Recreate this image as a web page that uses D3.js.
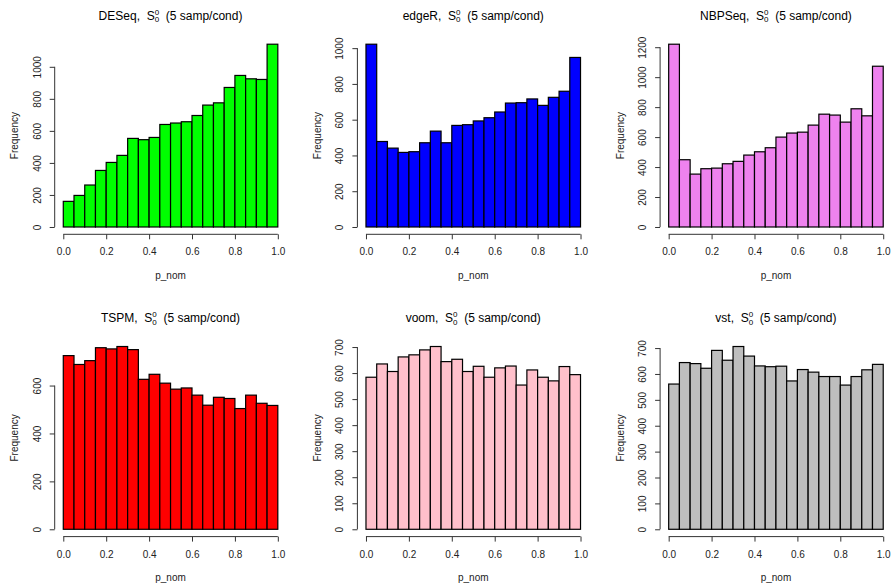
<!DOCTYPE html>
<html>
<head>
<meta charset="utf-8">
<script src="https://cdn.jsdelivr.net/npm/d3@7"></script>
<style>
  html, body { margin: 0; padding: 0; background: #fff; }
  svg { display: block; font-family: "Liberation Sans", Arial, Helvetica, sans-serif; }
  .title { white-space: pre; }
</style>
</head>
<body>
<svg id="chart" width="893" height="588"></svg>
<script>
// ---------- data ----------
const binEdges = [0.00, 0.05, 0.10, 0.15, 0.20, 0.25, 0.30, 0.35, 0.40, 0.45, 0.50,
                  0.55, 0.60, 0.65, 0.70, 0.75, 0.80, 0.85, 0.90, 0.95, 1.00];
const xTicks = [0.0, 0.2, 0.4, 0.6, 0.8, 1.0];

const methods = ["DESeq", "edgeR", "NBPSeq", "TSPM", "voom", "vst"];
const titleSuffix = "(5 samp/cond)";
const xLabel = "p_nom";
const yLabel = "Frequency";

const countsDESeq  = [160, 197, 262, 353, 403, 447, 553, 545, 559, 640,
                      649, 657, 696, 761, 775, 871, 946, 925, 921, 1141];
const countsEdgeR  = [1022, 478, 441, 417, 421, 471, 536, 471, 568, 572,
                      593, 611, 643, 693, 695, 716, 680, 725, 759, 948];
const countsNBPSeq = [1220, 449, 353, 389, 393, 422, 438, 480, 502, 529,
                      600, 627, 633, 680, 753, 747, 700, 789, 742, 1073];
const countsTSPM   = [725, 688, 704, 758, 753, 763, 750, 626, 647, 610,
                      585, 590, 560, 518, 551, 546, 504, 560, 526, 517];
const countsVoom   = [584, 635, 606, 662, 670, 689, 702, 644, 653, 606,
                      626, 584, 620, 627, 554, 612, 584, 570, 625, 594];
const countsVst    = [561, 644, 640, 622, 691, 653, 706, 669, 631, 628,
                      630, 573, 617, 607, 590, 590, 557, 590, 616, 637];

const yTicksDESeq  = [0, 200, 400, 600, 800, 1000];
const yTicksEdgeR  = [0, 200, 400, 600, 800, 1000];
const yTicksNBPSeq = [0, 200, 400, 600, 800, 1000, 1200];
const yTicksTSPM   = [0, 200, 400, 600];
const yTicksVoom   = [0, 100, 200, 300, 400, 500, 600, 700];
const yTicksVst    = [0, 100, 200, 300, 400, 500, 600, 700];

const allCounts = [countsDESeq, countsEdgeR, countsNBPSeq, countsTSPM, countsVoom, countsVst];
const allYTicks = [yTicksDESeq, yTicksEdgeR, yTicksNBPSeq, yTicksTSPM, yTicksVoom, yTicksVst];

// ---------- styles ----------
const fills = ["#00FF00", "#0000FF", "#EE82EE", "#FF0000", "#FFC0CB", "#BEBEBE"];

// ---------- layout ----------
const plotW = 231.7, plotH = 197.4;
const leftOf = col => 54.7 + col * 302.7;
const bottomOf = row => 234.3 + row * 302.3;

const svg = d3.select("#chart");

methods.forEach((name, i) => {
  const col = i % 3, row = Math.floor(i / 3);
  const L = leftOf(col), B = bottomOf(row), T = B - plotH, R = L + plotW;
  const counts = allCounts[i];
  const ymax = d3.max(counts);

  const x = d3.scaleLinear().domain([-0.04, 1.04]).range([L, R]);
  const y = d3.scaleLinear().domain([-0.04 * ymax, 1.04 * ymax]).range([B, T]);

  const g = svg.append("g");

  // bars
  g.selectAll("rect.bar")
    .data(counts)
    .join("rect")
    .attr("class", "bar")
    .attr("x", (d, k) => x(binEdges[k]))
    .attr("width", (d, k) => x(binEdges[k + 1]) - x(binEdges[k]))
    .attr("y", d => y(d))
    .attr("height", d => y(0) - y(d))
    .attr("fill", fills[i])
    .attr("stroke", "#000")
    .attr("stroke-width", 1.2);

  // x axis
  const xAxis = d3.axisBottom(x).tickValues(xTicks).tickSize(5).tickFormat(d3.format(".1f"));
  const gx = g.append("g").attr("transform", `translate(0,${B})`).call(xAxis);
  gx.select(".domain").remove();
  gx.append("line")
    .attr("x1", x(xTicks[0])).attr("x2", x(xTicks[xTicks.length - 1]))
    .attr("y1", 0).attr("y2", 0)
    .attr("stroke", "#333");
  gx.selectAll(".tick line").attr("stroke", "#333");
  gx.selectAll(".tick text")
    .attr("y", 14)
    .attr("fill", "#222")
    .style("font-size", "10px")
    .style("font-family", "'Liberation Sans', Arial, sans-serif");

  // y axis
  const yt = allYTicks[i];
  const yAxis = d3.axisLeft(y).tickValues(yt).tickSize(5).tickFormat(d3.format("d"));
  const gy = g.append("g").attr("transform", `translate(${L},0)`).call(yAxis);
  gy.select(".domain").remove();
  gy.append("line")
    .attr("x1", 0).attr("x2", 0)
    .attr("y1", y(yt[0])).attr("y2", y(yt[yt.length - 1]))
    .attr("stroke", "#333");
  gy.selectAll(".tick line").attr("stroke", "#333");
  gy.selectAll(".tick text")
    .attr("x", 0)
    .attr("y", -14)
    .attr("dy", null)
    .attr("transform", "rotate(-90)")
    .attr("text-anchor", "middle")
    .attr("fill", "#222")
    .style("font-size", "10px")
    .style("font-family", "'Liberation Sans', Arial, sans-serif");

  // axis titles
  g.append("text")
    .attr("x", (L + R) / 2).attr("y", B + 44.5)
    .attr("text-anchor", "middle")
    .attr("fill", "#222")
    .style("font-size", "10px")
    .text(xLabel);
  g.append("text")
    .attr("transform", `translate(${L - 36.5},${(T + B) / 2}) rotate(-90)`)
    .attr("text-anchor", "middle")
    .attr("fill", "#222")
    .style("font-size", "10px")
    .text(yLabel);

  // main title with S_0^0
  const t = g.append("text")
    .attr("class", "title")
    .attr("x", (L + R) / 2).attr("y", B - 214.8)
    .attr("text-anchor", "middle")
    .attr("fill", "#000")
    .style("font-size", "12px");
  t.append("tspan").text(name + ",  S");
  t.append("tspan").attr("dy", -4.6).style("font-size", "8px").text("0");
  t.append("tspan").attr("dx", "-0.556em").attr("dy", 7.4).style("font-size", "8px").text("0");
  t.append("tspan").attr("dy", -2.8).text("  " + titleSuffix);
});
</script>
</body>
</html>
